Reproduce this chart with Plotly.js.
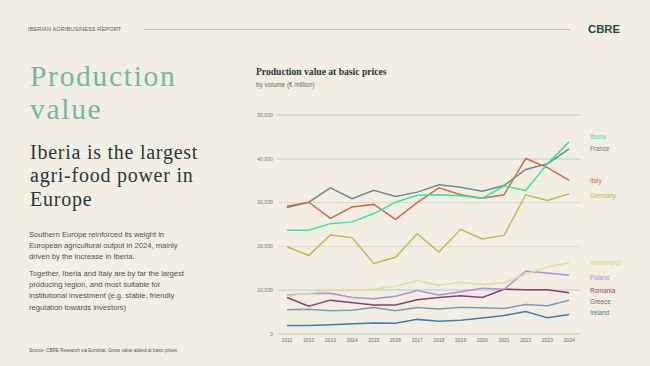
<!DOCTYPE html>
<html>
<head>
<meta charset="utf-8">
<script src="https://cdn.plot.ly/plotly-3.0.1.min.js"></script>
<style>
  html, body { margin:0; padding:0; width:650px; height:366px; overflow:hidden; background:#f3eee4; }
  #chart { position:absolute; left:0; top:0; width:650px; height:366px; }
  .t { position:absolute; white-space:nowrap; margin:0; }
  .sans { font-family:"Liberation Sans", Arial, sans-serif; }
  .serif { font-family:"Liberation Serif", "Times New Roman", serif; }
</style>
</head>
<body>
<div id="chart"></div>

<div class="t sans" style="left:28px; top:25px; font-size:5.7px; line-height:8px; color:#5e605d; letter-spacing:0.05px;">IBERIAN AGRIBUSINESS REPORT</div>
<div style="position:absolute; left:144px; top:29px; width:426px; height:1px; background:#a9bfba;"></div>
<div class="t sans" style="left:588px; top:22px; font-size:11.3px; line-height:14px; font-weight:bold; color:#1d4b3f;">CBRE</div>

<div class="t serif" style="left:30px; top:60px; font-size:29.5px; line-height:32.8px; color:#72b8a5; letter-spacing:1.7px;">Production</div>
<div class="t serif" style="left:30px; top:92.8px; font-size:29.5px; line-height:32.8px; color:#72b8a5; letter-spacing:1.7px;">value</div>
<div class="t serif" style="left:30px; top:140.9px; font-size:20px; line-height:23.4px; color:#27383a; letter-spacing:0.75px;">Iberia is the largest<br>agri-food power in<br>Europe</div>

<div class="t sans" style="left:29px; top:228.8px; font-size:7.6px; line-height:11.2px; color:#4d5150;">Southern Europe reinforced its weight in<br>European agricultural output in 2024, mainly<br>driven by the increase in Iberia.</div>
<div class="t sans" style="left:29px; top:268px; font-size:7.6px; line-height:11.2px; color:#4d5150;">Together, Iberia and Italy are by far the largest<br>producing region, and most suitable for<br>institutional investment (e.g. stable, friendly<br>regulation towards investors)</div>
<div class="t sans" style="left:29px; top:348px; font-size:4.6px; line-height:6px; color:#555;">Source: CBRE Research via Eurostat. Gross value added at basic prices</div>

<div class="t serif" style="left:256px; top:66px; font-size:9.6px; line-height:12px; font-weight:bold; color:#2a3434;">Production value at basic prices</div>
<div class="t sans" style="left:256px; top:81px; font-size:6.4px; line-height:8px; color:#6a6a64;">by volume (€ million)</div>

<script>
// ---- data (€ million) ----
var years = [2011, 2012, 2013, 2014, 2015, 2016, 2017, 2018, 2019, 2020, 2021, 2022, 2023, 2024];
var yearLabels = ["2011","2012","2013","2014","2015","2016","2017","2018","2019","2020","2021","2022","2023","2024"];
var seriesNames = ["Iberia","France","Italy","Germany","Netherland","Poland","Romania","Greece","Ireland"];
var iberia     = [23700, 23700, 25200, 25600, 27500, 30100, 31700, 31800, 31600, 31000, 33800, 32800, 38900, 43900];
var france     = [28900, 30100, 33400, 30900, 32800, 31400, 32400, 34100, 33500, 32600, 33900, 37600, 38900, 42300];
var italy      = [29200, 30100, 26400, 29000, 29600, 26200, 30000, 33400, 31800, 31000, 31800, 40100, 38000, 35100];
var germany    = [19900, 17900, 22600, 22000, 16100, 17500, 22900, 18700, 23900, 21700, 22500, 31800, 30500, 32000];
var netherland = [8700, 9200, 10000, 10000, 10200, 10900, 12200, 11100, 11800, 11300, 11700, 13600, 15300, 16300];
var poland     = [8900, 9200, 9300, 8300, 8000, 8600, 9900, 8900, 9600, 10400, 10200, 14300, 13900, 13400];
var romania    = [8300, 6300, 7700, 7200, 6600, 6600, 7800, 8300, 8700, 8300, 10200, 10100, 10100, 9400];
var greece     = [5500, 5600, 5300, 5400, 6000, 5300, 6000, 5700, 6100, 5900, 5800, 6700, 6400, 7700];
var ireland    = [1900, 1900, 2100, 2300, 2500, 2400, 3300, 2900, 3100, 3600, 4200, 5100, 3700, 4400];
var yTicks = [0, 10000, 20000, 30000, 40000, 50000];

// ---- styles ----
var seriesData = [iberia, france, italy, germany, netherland, poland, romania, greece, ireland];
var lineColors  = ["#35e69a","#6d8a8f","#cf6a4b","#c4b74c","#e2dc9a","#b48ed8","#8a3e69","#7d9dac","#3b80b3"];
var labelColors = ["#35e69a","#6d7e80","#cf6a4b","#c4b74c","#d9d38a","#b48ed8","#8a3e69","#666e6e","#3b80b3"];
var labelShift  = [5, 0, -1, -2, 0, -2, 2, -1, 2];
var drawOrder   = [8, 7, 6, 5, 4, 3, 1, 2, 0];

var traces = drawOrder.map(function (i) {
  return {
    x: years, y: seriesData[i], type: "scatter", mode: "lines", name: seriesNames[i],
    line: { color: lineColors[i], width: 1.5 }, hoverinfo: "skip"
  };
});

var annotations = seriesNames.map(function (n, i) {
  var d = seriesData[i];
  return {
    x: years[years.length - 1], y: d[d.length - 1], xref: "x", yref: "y",
    text: n, showarrow: false, xanchor: "left", yanchor: "middle",
    xshift: 19, yshift: labelShift[i],
    font: { family: "Liberation Sans, Arial, sans-serif", size: 6.3, color: labelColors[i] }
  };
});

var layout = {
  width: 650, height: 366,
  margin: { l: 277, r: 70, t: 113, b: 30, pad: 0 },
  paper_bgcolor: "#f3eee4", plot_bgcolor: "rgba(0,0,0,0)",
  showlegend: false,
  xaxis: {
    range: [2010.54, 2024.5], tickvals: years, ticktext: yearLabels,
    showgrid: false, zeroline: false, showline: false, ticks: "",
    tickfont: { family: "Liberation Sans, Arial, sans-serif", size: 5, color: "#6d6d66" },
    fixedrange: true
  },
  yaxis: {
    range: [-500, 50500], tickvals: yTicks, tickformat: ",",
    showgrid: true, gridcolor: "#d4ddd6", gridwidth: 1.4,
    zeroline: false, showline: false, ticks: "", ticklabelstandoff: 3,
    tickfont: { family: "Liberation Sans, Arial, sans-serif", size: 5.2, color: "#7a7a72" },
    fixedrange: true
  },
  annotations: annotations
};

Plotly.newPlot("chart", traces, layout, { displayModeBar: false, staticPlot: true });
</script>
</body>
</html>
